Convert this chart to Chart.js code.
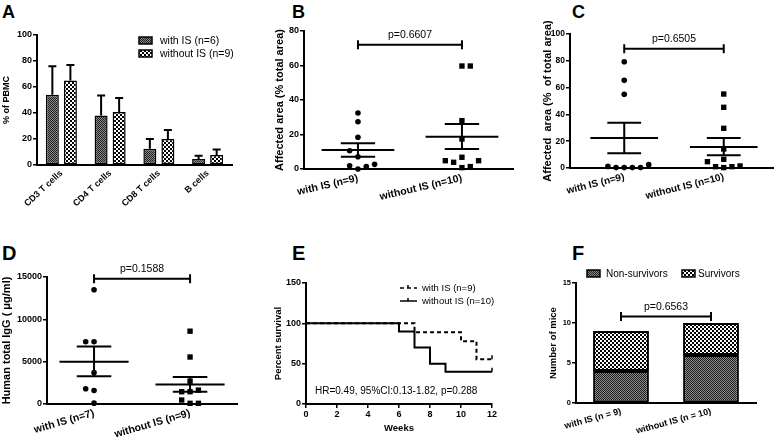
<!DOCTYPE html>
<html>
<head>
<meta charset="utf-8">
<script src="https://cdn.jsdelivr.net/npm/chart.js@4.4.1/dist/chart.umd.min.js"></script>
<style>
  html, body { margin: 0; padding: 0; background: #fff; }
  #fig { position: relative; width: 777px; height: 440px; overflow: hidden; font-family: "Liberation Sans", Arial, sans-serif; }
  .tag { position: absolute; font-weight: bold; line-height: 1; color: #000; }
</style>
</head>
<body>
<div id="fig">
  <div class="tag" style="left:2px;top:3px;font-size:18px">A</div>
  <div class="tag" style="left:292px;top:3px;font-size:18px">B</div>
  <div class="tag" style="left:572px;top:3px;font-size:18px">C</div>
  <div class="tag" style="left:2px;top:243px;font-size:20px">D</div>
  <div class="tag" style="left:292px;top:243px;font-size:20px">E</div>
  <div class="tag" style="left:572px;top:243px;font-size:20px">F</div>
</div>
<script>
// Panel A: lymphocyte subsets (% of PBMC), bar top and top of error bar
const subsetLabels = ['CD3 T cells', 'CD4 T cells', 'CD8 T cells', 'B cells'];
const pbmcWithIS = [54, 38, 12.5, 4.6];
const pbmcWithISTop = [76, 53.5, 20, 7.2];
const pbmcWithoutIS = [65, 40.7, 20, 7.7];
const pbmcWithoutISTop = [77, 51.5, 27, 12];

// Panel B: affected area (% total area); slot = column of the dot in the swarm
const groupLabelsB = ['with IS (n=9)', 'without IS (n=10)'];
const areaBWith = [32.5, 27.4, 18.4, 10.6, 7.1, 1.9, 0, 1.4, 2.7];
const areaBWithSlot = [0, 0, 0, -1, 0, -1, 0, 1, 2];
const areaBWithout = [59.7, 59.7, 28, 17.4, 4.8, 3.9, 6.8, 0.8, 1.4, 4.8];
const areaBWithoutSlot = [0, 1, 0, 0, -2, -1, 0, 0, 1, 2];
const areaBMean = [11, 18.7];
const areaBUpper = [14.9, 26.1];
const areaBLower = [7.1, 11.6];

// Panel C: affected area (% of total area)
const groupLabelsC = ['with IS (n=9)', 'without IS (n=10)'];
const areaCWith = [79.3, 65.4, 55, 1.2, 0.3, 0.3, 0.3, 0.3, 2.5];
const areaCWithSlot = [0, 0, 0, -2, -1, 0, 1, 2, 3];
const areaCWithout = [55.2, 45.3, 29.6, 14.2, 6.5, 4.7, 1, 0.3, 1, 1.5];
const areaCWithoutSlot = [0, 0, 0, 0, 0, -2, -1, 0, 1, 2];
const areaCMean = [22.4, 15.7];
const areaCUpper = [33.7, 22.4];
const areaCLower = [11, 9.5];

// Panel D: human total IgG (ug/ml)
const groupLabelsD = ['with IS (n=7)', 'without IS (n=9)'];
const iggWith = [13500, 7350, 7350, 3700, 1800, 1600, 100];
const iggWithSlot = [0, -1, 0, 0, -1, 0, 0];
const iggWithout = [8600, 5550, 2700, 1450, 1450, 1640, 470, 80, 80];
const iggWithoutSlot = [0, 0, 0, -1, 0, 1, -1, 0, 1];
const iggMean = [5000, 2310];
const iggUpper = [6800, 3200];
const iggLower = [3280, 1450];

// Panel E: Kaplan-Meier survival
const survWithWeeks = [0, 7, 10, 11, 12];
const survWithPct = [100, 88.9, 77.8, 55.6, 55.6];
const survWithoutWeeks = [0, 6, 7, 8, 9, 12];
const survWithoutPct = [100, 90, 70, 50, 40, 40];

// Panel F: number of mice
const miceLabels = ['with IS (n = 9)', 'without IS (n = 10)'];
const nonSurvivors = [4, 6];
const survivors = [5, 4];

const FONT = '"Liberation Sans", Arial, sans-serif';
const BLACK = '#000';
const bold = size => ({ family: FONT, size, weight: 'bold' });
const fig = document.getElementById('fig');

// fill patterns
function makePattern(size, draw) {
  const tile = document.createElement('canvas');
  tile.width = size; tile.height = size;
  draw(tile.getContext('2d'));
  return tile.getContext('2d').createPattern(tile, 'repeat');
}
const densePattern = makePattern(2, c => {
  c.fillStyle = '#1e1e1e'; c.fillRect(0, 0, 2, 2);
  c.fillStyle = '#8a8a8a'; c.fillRect(1, 0, 1, 1); c.fillRect(0, 1, 1, 1);
});
const checkPattern = makePattern(4, c => {
  c.fillStyle = '#000'; c.fillRect(0, 0, 4, 4);
  c.fillStyle = '#fff'; c.fillRect(0, 0, 2, 2); c.fillRect(2, 2, 2, 2);
});

// axis builders
function yAxis(max, step, tickSize, title, titleSize, titlePad) {
  return {
    min: 0, max,
    ticks: { stepSize: step, color: BLACK, font: bold(tickSize), padding: 1, callback: v => String(v) },
    grid: { drawOnChartArea: false, tickLength: 4, color: BLACK, lineWidth: 1.5 },
    border: { color: BLACK, width: 2 },
    title: { display: true, text: title, color: BLACK, font: bold(titleSize), padding: { top: titlePad, bottom: 0 } },
  };
}
function groupAxis(min, max, labels, rot, size) {
  return {
    type: 'linear', min, max,
    afterBuildTicks: s => { s.ticks = labels.map((_, i) => ({ value: i + 1 })); },
    ticks: { autoSkip: false, minRotation: rot, maxRotation: rot, color: BLACK, font: bold(size), padding: 3,
      callback: v => labels[v - 1] },
    grid: { drawOnChartArea: false, drawTicks: false },
    border: { color: BLACK, width: 2 },
  };
}

// pin the plot area of each panel
function panel(box, area, config) {
  const cv = document.createElement('canvas');
  cv.width = box.w; cv.height = box.h;
  cv.style.cssText = `position:absolute;left:${box.x}px;top:${box.y}px;width:${box.w}px;height:${box.h}px`;
  fig.appendChild(cv);
  const o = config.options;
  o.responsive = false;
  o.animation = false;
  o.events = [];
  o.layout = { padding: { left: 0, top: area.t, right: box.w - area.r, bottom: 0 } };
  o.plugins = Object.assign({ legend: { display: false }, tooltip: { enabled: false } }, o.plugins || {});
  o.scales.x.afterFit = s => { s.height = box.h - area.b; s.paddingLeft = 0; s.paddingRight = 0; };
  o.scales.y.afterFit = s => { s.width = area.l; s.paddingTop = 0; s.paddingBottom = 0; };
  return new Chart(cv, config);
}

// plugins
function meanSem(mean, upper, lower, halfMean, halfSem) {
  return { id: 'meanSem', afterDatasetsDraw(chart) {
    const { ctx, scales: { x, y } } = chart;
    ctx.save();
    ctx.strokeStyle = BLACK; ctx.lineWidth = 2;
    mean.forEach((m, i) => {
      const c = i + 1;
      const hline = (v, hw) => {
        ctx.moveTo(x.getPixelForValue(c - hw), y.getPixelForValue(v));
        ctx.lineTo(x.getPixelForValue(c + hw), y.getPixelForValue(v));
      };
      ctx.beginPath();
      hline(m, halfMean); hline(upper[i], halfSem); hline(lower[i], halfSem);
      ctx.moveTo(x.getPixelForValue(c), y.getPixelForValue(lower[i]));
      ctx.lineTo(x.getPixelForValue(c), y.getPixelForValue(upper[i]));
      ctx.stroke();
    });
    ctx.restore();
  }};
}
function pBracket(from, to, yVal, text) {
  return { id: 'pBracket', afterDraw(chart) {
    const { ctx, scales: { x, y } } = chart;
    const x1 = x.getPixelForValue(from), x2 = x.getPixelForValue(to), yy = y.getPixelForValue(yVal);
    ctx.save();
    ctx.strokeStyle = BLACK; ctx.lineWidth = 2;
    ctx.beginPath();
    ctx.moveTo(x1, yy); ctx.lineTo(x2, yy);
    ctx.moveTo(x1, yy - 4.5); ctx.lineTo(x1, yy + 4.5);
    ctx.moveTo(x2, yy - 4.5); ctx.lineTo(x2, yy + 4.5);
    ctx.stroke();
    ctx.fillStyle = BLACK;
    ctx.font = '10.5px ' + FONT;
    ctx.textAlign = 'center'; ctx.textBaseline = 'alphabetic';
    ctx.fillText(text, (x1 + x2) / 2, yy - 7);
    ctx.restore();
  }};
}
function boxLegend(items) {
  return { id: 'boxLegend', afterDraw(chart) {
    const ctx = chart.ctx;
    ctx.save();
    items.forEach(it => {
      ctx.fillStyle = it.fill;
      ctx.fillRect(it.x, it.y, 13, 7);
      ctx.strokeStyle = BLACK; ctx.lineWidth = 1.5;
      ctx.strokeRect(it.x, it.y, 13, 7);
      ctx.fillStyle = BLACK;
      ctx.font = it.size + 'px ' + FONT;
      ctx.textBaseline = 'middle';
      ctx.fillText(it.text, it.tx, it.y + 4);
    });
    ctx.restore();
  }};
}
function barErrors(tops) {
  return { id: 'barErrors', afterDatasetsDraw(chart) {
    const { ctx, scales: { y } } = chart;
    ctx.save();
    ctx.strokeStyle = BLACK; ctx.lineWidth = 2;
    tops.forEach((t, di) => {
      chart.getDatasetMeta(di).data.forEach((bar, i) => {
        const yt = y.getPixelForValue(t[i]);
        ctx.beginPath();
        ctx.moveTo(bar.x, bar.y); ctx.lineTo(bar.x, yt);
        ctx.moveTo(bar.x - 4, yt); ctx.lineTo(bar.x + 4, yt);
        ctx.stroke();
      });
    });
    ctx.restore();
  }};
}

function swarm(values, slots, centre, spacing) {
  return values.map((v, i) => ({ x: centre + slots[i] * spacing, y: v }));
}
function dots(data, style, r) {
  return { data, showLine: false, pointStyle: style, pointRadius: r, pointBackgroundColor: BLACK,
    pointBorderWidth: 0, clip: false };
}

// ---- A ----
panel({ x: 0, y: 0, w: 255, h: 218 }, { l: 37, r: 232, t: 35, b: 165 }, {
  type: 'bar',
  data: {
    labels: subsetLabels,
    datasets: [
      { label: 'with IS (n=6)', data: pbmcWithIS, backgroundColor: densePattern, borderColor: BLACK, borderWidth: 1.5, borderSkipped: false },
      { label: 'without IS (n=9)', data: pbmcWithoutIS, backgroundColor: checkPattern, borderColor: BLACK, borderWidth: 1.5, borderSkipped: false },
    ],
  },
  options: {
    datasets: { bar: { categoryPercentage: 0.74, barPercentage: 0.72 } },
    scales: {
      x: { ticks: { autoSkip: false, minRotation: 43, maxRotation: 43, color: BLACK, font: bold(9), padding: 3 },
        grid: { drawOnChartArea: false, drawTicks: false }, border: { color: BLACK, width: 2 } },
      y: yAxis(100, 20, 9, '% of PBMC', 9, 1.6),
    },
  },
  plugins: [barErrors([pbmcWithISTop, pbmcWithoutISTop]), boxLegend([
    { text: 'with IS (n=6)', fill: densePattern, x: 139, y: 37, tx: 160, size: 10.5 },
    { text: 'without IS (n=9)', fill: checkPattern, x: 139, y: 50, tx: 160, size: 10.5 },
  ])],
});

// ---- B ----
panel({ x: 255, y: 0, w: 262, h: 218 }, { l: 49, r: 258, t: 31, b: 169 }, {
  type: 'scatter',
  data: { datasets: [
    dots(swarm(areaBWith, areaBWithSlot, 1, 0.08), 'circle', 2.8),
    dots(swarm(areaBWithout, areaBWithoutSlot, 2, 0.08), 'rect', 3.8),
  ] },
  options: {
    scales: {
      x: groupAxis(0.481, 2.491, groupLabelsB, 13, 10.5),
      y: yAxis(80, 20, 9, 'Affected area (% total area)', 11, 18.4),
    },
  },
  plugins: [meanSem(areaBMean, areaBUpper, areaBLower, 0.35, 0.165), pBracket(1, 2, 72, 'p=0.6607')],
});

// ---- C ----
panel({ x: 510, y: 0, w: 267, h: 218 }, { l: 60, r: 266, t: 34, b: 168 }, {
  type: 'scatter',
  data: { datasets: [
    dots(swarm(areaCWith, areaCWithSlot, 1, 0.082), 'circle', 2.8),
    dots(swarm(areaCWithout, areaCWithoutSlot, 2, 0.082), 'rect', 3.8),
  ] },
  options: {
    scales: {
      x: groupAxis(0.455, 2.495, groupLabelsC, 14, 10),
      y: yAxis(100, 20, 8.5, 'Affected  area (%  of total area)', 11, 31.4),
    },
  },
  plugins: [meanSem(areaCMean, areaCUpper, areaCLower, 0.34, 0.17), pBracket(1, 2, 89, 'p=0.6505')],
});

// ---- D ----
panel({ x: 0, y: 218, w: 255, h: 222 }, { l: 47, r: 237, t: 59, b: 186 }, {
  type: 'scatter',
  data: { datasets: [
    dots(swarm(iggWith, iggWithSlot, 1, 0.087), 'circle', 2.8),
    dots(swarm(iggWithout, iggWithoutSlot, 2, 0.087), 'rect', 3.8),
  ] },
  options: {
    scales: {
      x: groupAxis(0.51, 2.489, groupLabelsD, 16, 10.5),
      y: yAxis(15000, 5000, 9, 'Human total IgG ( \u03bcg/ml)', 11, 0),
    },
  },
  plugins: [meanSem(iggMean, iggUpper, iggLower, 0.36, 0.18), pBracket(1, 2, 14800, 'p=0.1588')],
});

// ---- E ----
function kmLine(weeks, pct, dash) {
  return {
    data: weeks.map((w, i) => ({ x: w, y: pct[i] })),
    stepped: true, borderColor: BLACK, borderWidth: 2, borderDash: dash, fill: false,
    pointStyle: 'dash', rotation: -90, pointBorderColor: BLACK, pointBorderWidth: 1.5,
    pointRadius: weeks.map((_, i) => (i === weeks.length - 1 ? 4 : 0)), clip: false,
  };
}
panel({ x: 255, y: 218, w: 260, h: 222 }, { l: 51, r: 237, t: 65, b: 186 }, {
  type: 'line',
  data: { datasets: [
    kmLine(survWithWeeks, survWithPct, [4, 3]),
    kmLine(survWithoutWeeks, survWithoutPct, []),
  ] },
  options: {
    scales: {
      x: { type: 'linear', min: 0, max: 12,
        ticks: { stepSize: 2, color: BLACK, font: bold(9), padding: 1, maxRotation: 0 },
        grid: { drawOnChartArea: false, tickLength: 4, color: BLACK, lineWidth: 1.5 },
        border: { color: BLACK, width: 2 },
        title: { display: true, text: 'Weeks', color: BLACK, font: bold(9.5), padding: { top: 0, bottom: 6 } } },
      y: yAxis(150, 50, 9, 'Percent survival', 9.5, 17.3),
    },
  },
  plugins: [{ id: 'kmLegend', afterDraw(chart) {
    const ctx = chart.ctx;
    ctx.save();
    ctx.strokeStyle = BLACK; ctx.fillStyle = BLACK; ctx.lineWidth = 1.5;
    [['with IS (n=9)', 70, [4, 3]], ['without IS (n=10)', 83, []]].forEach(([t, yy, dash]) => {
      ctx.setLineDash(dash);
      ctx.beginPath(); ctx.moveTo(145, yy); ctx.lineTo(162, yy); ctx.stroke();
      ctx.setLineDash([]);
      ctx.beginPath(); ctx.moveTo(153, yy); ctx.lineTo(153, yy - 3); ctx.stroke();
      ctx.font = '9.5px ' + FONT; ctx.textBaseline = 'middle';
      ctx.fillText(t, 167, yy);
    });
    ctx.font = '10px ' + FONT;
    ctx.fillText('HR=0.49, 95%CI:0.13-1.82, p=0.288', 60, 173);
    ctx.restore();
  }}],
});

// ---- F ----
panel({ x: 510, y: 218, w: 267, h: 222 }, { l: 66, r: 246, t: 65, b: 185 }, {
  type: 'bar',
  data: {
    labels: miceLabels,
    datasets: [
      { label: 'Non-survivors', data: nonSurvivors, backgroundColor: densePattern, borderColor: BLACK, borderWidth: 2, borderSkipped: false },
      { label: 'Survivors', data: survivors, backgroundColor: checkPattern, borderColor: BLACK, borderWidth: 2, borderSkipped: false },
    ],
  },
  options: {
    datasets: { bar: { categoryPercentage: 1, barPercentage: 0.62 } },
    scales: {
      x: { stacked: true, ticks: { autoSkip: false, minRotation: 15, maxRotation: 15, color: BLACK, font: bold(9), padding: 3 },
        grid: { drawOnChartArea: false, drawTicks: false }, border: { color: BLACK, width: 2 } },
      y: Object.assign(yAxis(15, 5, 7.5, 'Number of mice', 9.5, 37.3), { stacked: true }),
    },
  },
  plugins: [pBracket(0, 1, 10.8, 'p=0.6563'), boxLegend([
    { text: 'Non-survivors', fill: densePattern, x: 77, y: 52, tx: 96, size: 10 },
    { text: 'Survivors', fill: checkPattern, x: 172, y: 52, tx: 188, size: 10 },
  ])],
});
</script>
</body>
</html>
